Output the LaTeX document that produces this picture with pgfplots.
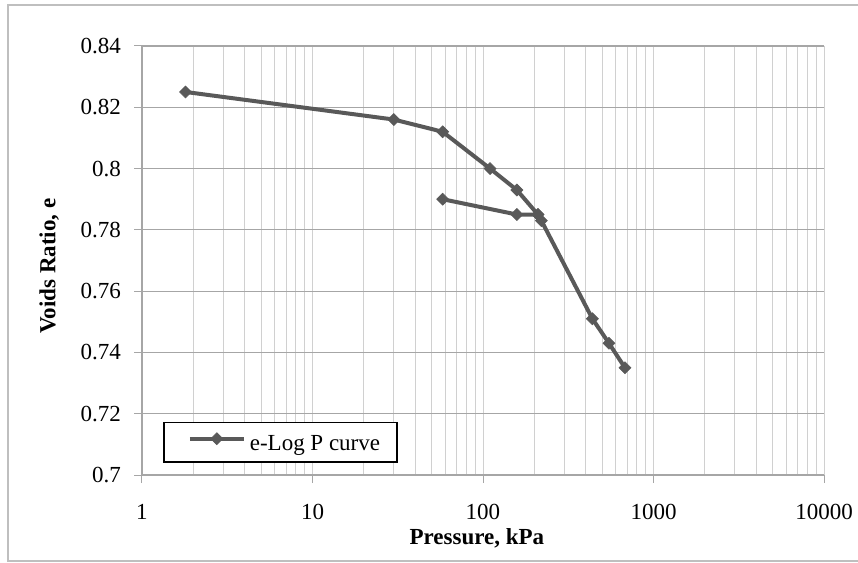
\documentclass[border=0pt]{standalone}
\usepackage{fontspec}
\setmainfont{Liberation Serif}
\usepackage{pgfplots}
\pgfplotsset{compat=1.18}

\definecolor{seriesgray}{HTML}{595959}
\definecolor{majorgrid}{HTML}{A6A6A6}
\definecolor{minorgrid}{HTML}{D0D0D0}
\definecolor{framegray}{HTML}{BFBFBF}
\newcommand{\chartfont}{\fontsize{23bp}{28bp}\selectfont}

\begin{document}
\begin{tikzpicture}
\path[use as bounding box] (-142bp,-88bp) rectangle (716bp,475bp);
\draw[framegray, line width=1.5bp] (-134bp,-86bp) rectangle (730bp,470bp);
\begin{axis}[
  at={(0,0)}, anchor=south west,
  scale only axis, width=682bp, height=429bp,
  xmode=log, log basis x=10,
  xmin=1, xmax=10000, ymin=0.7, ymax=0.84,
  xtick={1,10,100,1000,10000},
  xticklabels={1,10,100,1000,10000},
  minor xtick={2,3,4,5,6,7,8,9,20,30,40,50,60,70,80,90,200,300,400,500,600,700,800,900,2000,3000,4000,5000,6000,7000,8000,9000},
  ytick={0.7,0.72,0.74,0.76,0.78,0.8,0.82,0.84},
  yticklabels={0.7,0.72,0.74,0.76,0.78,0.8,0.82,0.84},
  axis x line*=bottom, axis y line*=left,
  axis line style={majorgrid, line width=1.2bp},
  xmajorgrids, xminorgrids, ymajorgrids,
  x grid style={minorgrid, line width=1bp},
  minor grid style={minorgrid, line width=1bp},
  y grid style={majorgrid, line width=1.1bp},
  tick align=outside,
  major tick length=8bp, minor tick length=0pt,
  tick style={majorgrid, line width=1bp},
  ticklabel style={font=\chartfont},
  xticklabel style={anchor=base, inner sep=0pt, yshift=-36bp},
  yticklabel style={anchor=east, inner sep=0pt, xshift=-13bp},
  xlabel={\textbf{Pressure, kPa}},
  ylabel={\textbf{Voids Ratio, e}},
  label style={font=\chartfont},
  xlabel style={at={(axis description cs:0.491,-0.163)}, anchor=base, inner sep=0pt},
  ylabel style={at={(axis description cs:-0.136,0.487)}, anchor=center, inner sep=0pt, rotate=0},
  legend style={at={(axis description cs:0.031,0.0287)}, anchor=south west,
    draw=black, line width=1.4bp, fill=white, font=\chartfont,
    inner xsep=17bp, inner ysep=10bp, nodes={inner sep=0pt}},
  legend cell align=left,
  legend image code/.code={%
    \path (0bp,0bp) (65bp,0bp);
    \draw[mark repeat=2, mark phase=2] plot coordinates {(7bp,5bp) (34bp,5bp) (61bp,5bp)};
  },
]
% loading branch
\addplot[seriesgray, line width=4bp, mark=diamond*, mark size=6bp,
  mark options={solid, line width=0.6bp, xscale=1.33}]
  coordinates {
    (1.8,0.825) (30,0.816) (58,0.812) (110,0.800) (158,0.793)
    (210,0.785) (220,0.783) (438,0.751) (548,0.743) (680,0.735)
  };
\addlegendentry{e-Log P curve}
% unloading branch
\addplot[seriesgray, line width=4bp, mark=diamond*, mark size=6bp,
  mark options={solid, line width=0.6bp, xscale=1.33}, forget plot]
  coordinates {
    (58,0.790) (158,0.785) (210,0.785)
  };
\end{axis}
\end{tikzpicture}
\end{document}
